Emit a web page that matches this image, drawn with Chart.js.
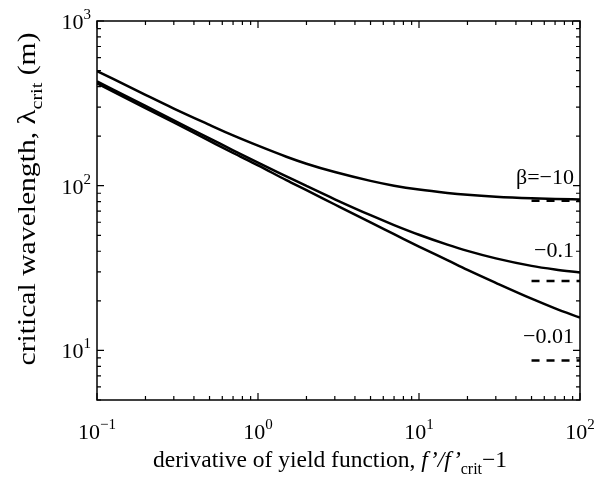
<!DOCTYPE html>
<html>
<head>
<meta charset="utf-8">
<script src="https://cdn.jsdelivr.net/npm/chart.js@4.4.1/dist/chart.umd.min.js"></script>
<style>
  html, body { margin: 0; padding: 0; background: #fff; }
  #wrap { width: 598px; height: 477px; }
</style>
</head>
<body>
<div id="wrap"><canvas id="chart" width="598" height="477"></canvas></div>
<script>
// values
const xValues = [0.1, 0.2, 0.3, 0.5, 0.7, 1, 1.5, 2, 3, 5, 7, 10, 15, 20, 30, 50, 70, 100];
const betaM10 = [497, 356, 294, 234, 202, 175, 150, 136, 121, 107, 100, 94.7, 90.4, 88.1, 85.8, 83.9, 83.1, 82.5];
const betaM01 = [430, 305, 249, 194, 164, 138, 114, 99.6, 82.7, 66.2, 57.7, 50.4, 43.9, 40.2, 36.2, 32.6, 31.0, 29.7];
const betaM001 = [419, 296, 242, 187, 158, 133, 108, 94.0, 76.9, 59.8, 50.8, 42.7, 35.3, 30.8, 25.7, 20.6, 18.0, 15.8];

// asymptotes (dashed) drawn from x=50 to x=100
const asymX = [50, 100];
const asymValues = [81, 26.4, 8.7];
const curveLabels = ['\u03b2=\u221210', '\u22120.1', '\u22120.01'];

const xDecades = [0.1, 1, 10, 100];
const yDecades = [10, 100, 1000];
const xTickExp = ['\u22121', '0', '1', '2'];
const yTickExp = ['1', '2', '3'];

const serif = '"Liberation Serif", "DejaVu Serif", serif';

function curve(vals) {
  return {
    data: xValues.map((x, i) => ({ x: x, y: vals[i] })),
    borderColor: '#000',
    borderWidth: 2.5,
    pointRadius: 0,
    fill: false,
    cubicInterpolationMode: 'monotone'
  };
}

const datasets = [curve(betaM10), curve(betaM01), curve(betaM001)];
asymValues.forEach(v => {
  datasets.push({
    data: asymX.map(x => ({ x: x, y: v })),
    borderColor: '#000',
    borderWidth: 2.5,
    borderDash: [8, 7],
    pointRadius: 0,
    fill: false
  });
});

function runsWidth(ctx, runs) {
  let w = 0;
  runs.forEach(r => { ctx.font = r.f; w += ctx.measureText(r.t).width; });
  return w;
}
function drawRuns(ctx, runs, x, y, align) {
  const w = runsWidth(ctx, runs);
  let cx = align === 'center' ? x - w / 2 : align === 'right' ? x - w : x;
  ctx.textAlign = 'left';
  ctx.textBaseline = 'alphabetic';
  runs.forEach(r => {
    ctx.font = r.f;
    ctx.fillText(r.t, cx, y + (r.dy || 0));
    cx += ctx.measureText(r.t).width;
  });
}

const frame = {
  id: 'frame',
  afterDraw(chart) {
    const ctx = chart.ctx;
    const a = chart.chartArea;
    const xs = chart.scales.x, ys = chart.scales.y;
    ctx.save();
    ctx.strokeStyle = '#000';
    ctx.fillStyle = '#000';
    ctx.lineWidth = 1.5;
    ctx.strokeRect(a.left, a.top, a.right - a.left, a.bottom - a.top);

    // inward ticks on all four sides
    ctx.lineWidth = 1.2;
    ctx.beginPath();
    for (let d = 0.1; d < 100; d *= 10) {
      for (let k = 1; k <= 10; k++) {
        const v = d * k;
        if (v > 100.0001) break;
        const p = xs.getPixelForValue(v);
        const len = (k === 1 || k === 10) ? 7 : 4;
        ctx.moveTo(p, a.bottom); ctx.lineTo(p, a.bottom - len);
        ctx.moveTo(p, a.top); ctx.lineTo(p, a.top + len);
      }
    }
    for (let d = 1; d < 1000; d *= 10) {
      for (let k = 1; k <= 10; k++) {
        const v = d * k;
        if (v < 5 || v > 1000.0001) continue;
        const p = ys.getPixelForValue(v);
        const len = (k === 1 || k === 10) ? 7 : 4;
        ctx.moveTo(a.left, p); ctx.lineTo(a.left + len, p);
        ctx.moveTo(a.right, p); ctx.lineTo(a.right - len, p);
      }
    }
    ctx.stroke();

    const big = '22px ' + serif, sup = '15px ' + serif;
    xDecades.forEach((v, i) => {
      const p = xs.getPixelForValue(v);
      drawRuns(ctx, [{ t: '10', f: big }, { t: xTickExp[i], f: sup, dy: -10 }], p, a.bottom + 39, 'center');
    });
    yDecades.forEach((v, i) => {
      const p = ys.getPixelForValue(v);
      drawRuns(ctx, [{ t: '10', f: big }, { t: yTickExp[i], f: sup, dy: -10 }], a.left - 6, p + 8, 'right');
    });

    // axis titles
    const tf = '23.5px ' + serif, ti = 'italic 23.5px ' + serif, ts = '16px ' + serif;
    drawRuns(ctx, [
      { t: 'derivative of yield function, ', f: tf },
      { t: 'f\u2019/f\u2019', f: ti },
      { t: 'crit', f: ts, dy: 7 },
      { t: '\u22121', f: tf }
    ], 330, 467, 'center');

    const yf = '25px ' + serif, ys2 = '17px ' + serif;
    const yTitle = [
      { t: 'critical wavelength, ', f: yf },
      { t: '\u03bb', f: '26px ' + serif },
      { t: 'crit', f: ys2, dy: 7 },
      { t: ' (m)', f: yf }
    ];
    const stretch = 333 / runsWidth(ctx, yTitle);
    ctx.save();
    ctx.translate(35, 199);
    ctx.rotate(-Math.PI / 2);
    ctx.scale(stretch, 1);
    drawRuns(ctx, yTitle, 0, 0, 'center');
    ctx.restore();

    // curve labels above the asymptotes
    const labelLift = [17, 24, 17];
    asymValues.forEach((v, i) => {
      const p = ys.getPixelForValue(v);
      drawRuns(ctx, [{ t: curveLabels[i], f: big }], a.right - 6, p - labelLift[i], 'right');
    });
    ctx.restore();
  }
};

new Chart(document.getElementById('chart'), {
  type: 'line',
  data: { datasets: datasets },
  options: {
    responsive: false,
    animation: false,
    devicePixelRatio: 1,
    layout: { padding: { left: 97, right: 18, top: 21, bottom: 77 } },
    plugins: { legend: { display: false }, tooltip: { enabled: false } },
    scales: {
      x: {
        type: 'logarithmic', min: 0.1, max: 100,
        grid: { display: false }, border: { display: false },
        ticks: { display: false },
        afterFit(s) { s.height = 0; }
      },
      y: {
        type: 'logarithmic', min: 5, max: 1000,
        grid: { display: false }, border: { display: false },
        ticks: { display: false },
        afterFit(s) { s.width = 0; }
      }
    }
  },
  plugins: [frame]
});
</script>
</body>
</html>
